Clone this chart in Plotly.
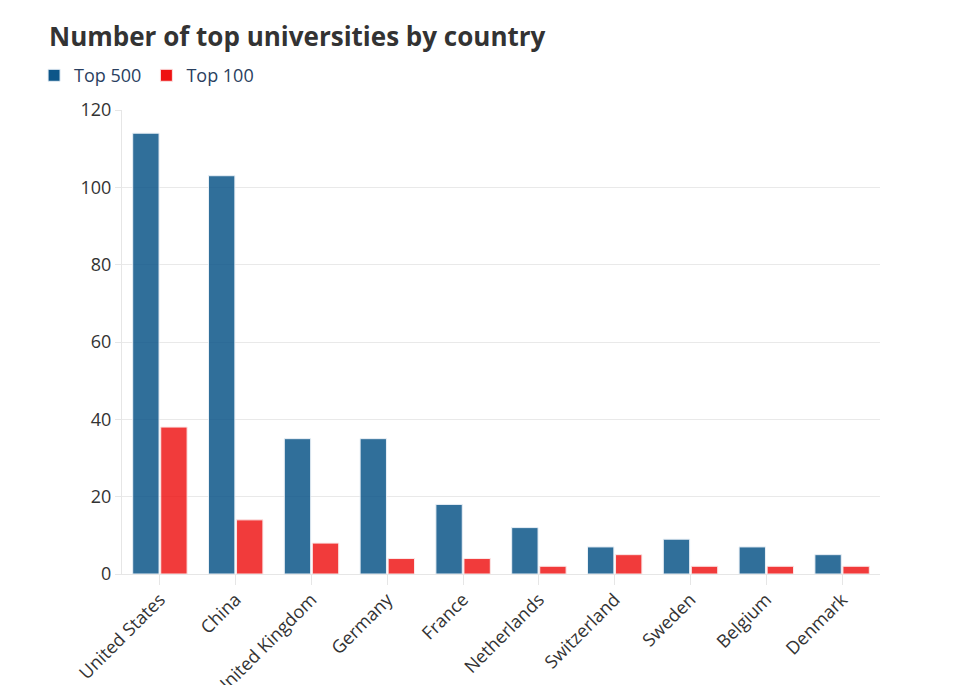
import plotly.graph_objects as go

countries = ['United States', 'China', 'United Kingdom', 'Germany', 'France',
             'Netherlands', 'Switzerland', 'Sweden', 'Belgium', 'Denmark']
top500 = [114, 103, 35, 35, 18, 12, 7, 9, 7, 5]
top100 = [38, 14, 8, 4, 4, 2, 5, 2, 2, 2]

fig = go.Figure()
fig.add_trace(go.Bar(x=countries, y=top500, name='Top 500',
                     marker=dict(color='#0d5689', opacity=0.85,
                                 line=dict(color='#e6eef5', width=1))))
fig.add_trace(go.Bar(x=countries, y=top100, name='Top 100',
                     marker=dict(color='#ee1111', opacity=0.82,
                                 line=dict(color='#fbe3e3', width=1))))

# page body has an 8px margin, so the figure is a bit smaller than the window
W, H = 943, 677
fig.update_layout(
    width=W, height=H,
    template='plotly_white',
    font=dict(family='Open Sans', size=18, color='#333333'),
    title=dict(text='<b>Number of top universities by country</b>',
               font=dict(size=26, color='#333333'),
               x=41/W, xanchor='left', xref='container',
               y=1 - 29/H, yanchor='middle', yref='container'),
    legend=dict(orientation='h', x=-0.116, xanchor='left', y=1.114, yanchor='top',
                font=dict(size=18, color='#2a3f5f'), bgcolor='rgba(0,0,0,0)',
                itemwidth=30, traceorder='normal'),
    margin=dict(l=114, r=71, t=102, b=111, autoexpand=False),
    barmode='group', bargap=0.26, bargroupgap=0.06,
    plot_bgcolor='white',
)
fig.update_xaxes(tickangle=-45, ticks='outside', ticklen=10, tickcolor='#e6e6e6',
                 showline=True, linecolor='#e6e6e6', showgrid=False, automargin=False,
                 ticklabelstandoff=-3,
                 tickfont=dict(size=18, color='#333333'))
fig.update_yaxes(range=[0, 120], dtick=20, ticks='outside', ticklen=6, tickcolor='#e6e6e6',
                 showline=True, linecolor='#e6e6e6', gridcolor='#e9e9e9',
                 zeroline=False, automargin=False, tickfont=dict(size=18, color='#333333'))

fig.write_html('out.html')
